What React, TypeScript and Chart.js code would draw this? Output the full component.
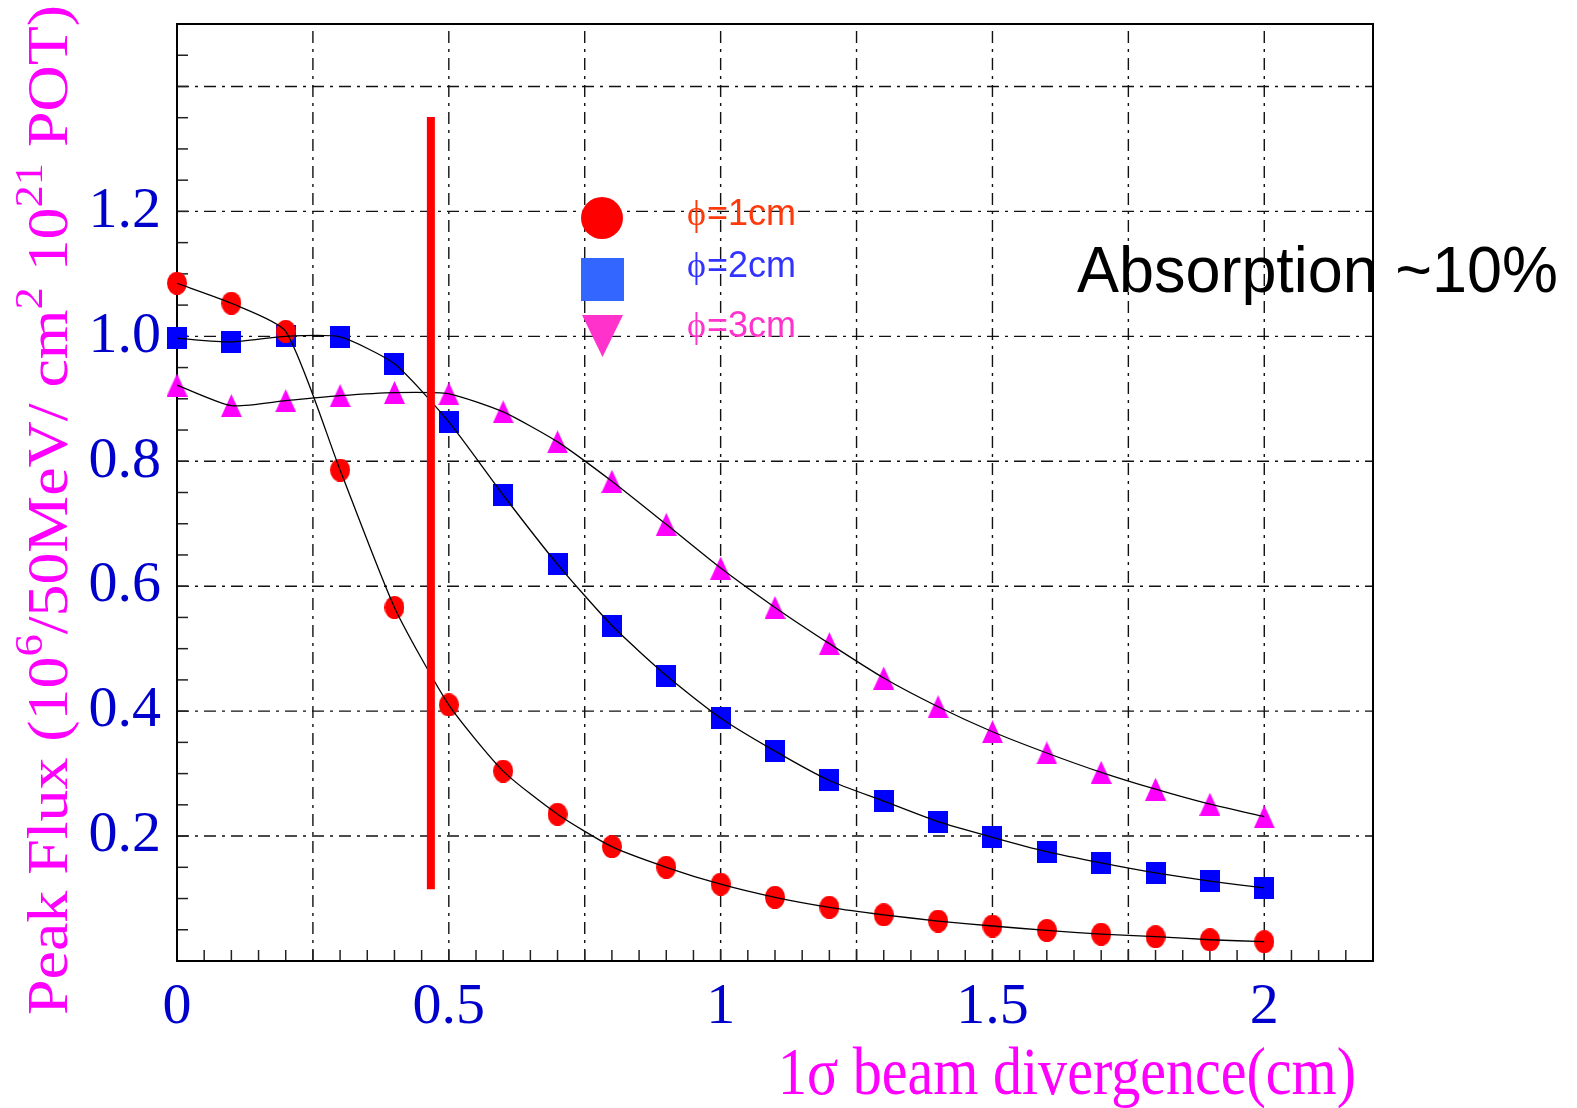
import { useEffect, useRef } from 'react';
import { Chart, registerables } from 'chart.js';

Chart.register(...registerables);

// Beam divergence (cm) at which each configuration was simulated
const divergenceCm = [0, 0.1, 0.2, 0.3, 0.4, 0.5, 0.6, 0.7, 0.8, 0.9, 1.0, 1.1, 1.2, 1.3, 1.4, 1.5, 1.6, 1.7, 1.8, 1.9, 2.0];

// Peak flux for each target diameter
const fluxPhi1 = [1.085, 1.053, 1.008, 0.786, 0.566, 0.41, 0.304, 0.235, 0.183, 0.15, 0.123, 0.102, 0.086, 0.074, 0.064, 0.056, 0.049, 0.043, 0.039, 0.034, 0.031];
const fluxPhi2 = [0.997, 0.991, 1.0, 0.999, 0.956, 0.863, 0.746, 0.635, 0.537, 0.457, 0.389, 0.336, 0.289, 0.256, 0.223, 0.198, 0.175, 0.157, 0.141, 0.128, 0.117];
const fluxPhi3 = [0.922, 0.889, 0.897, 0.905, 0.91, 0.908, 0.879, 0.831, 0.768, 0.699, 0.629, 0.566, 0.508, 0.453, 0.407, 0.367, 0.333, 0.302, 0.275, 0.251, 0.231];

// Vertical marker line
const cutDivergence = 0.467;
const cutFluxRange = [0.115, 1.351];

const seriesNames = ['ϕ=1cm', 'ϕ=2cm', 'ϕ=3cm'];

const xTickValues = [0, 0.5, 1, 1.5, 2];
const xTickLabels = ['0', '0.5', '1', '1.5', '2'];
const yTickValues = [0.2, 0.4, 0.6, 0.8, 1.0, 1.2];
const yTickLabels = ['0.2', '0.4', '0.6', '0.8', '1.0', '1.2'];

const yTitleParts: [string, boolean][] = [
  ['Peak Flux (10', false],
  ['6', true],
  ['/50MeV/ cm', false],
  ['2', true],
  [' 10', false],
  ['21', true],
  [' POT)', false],
];
const xTitle = '1σ beam divergence(cm)';
const note = 'Absorption ~10%';

const W = 1577;
const H = 1108;
const SERIF = '"Liberation Serif", "Times New Roman", serif';
const SANS = '"Liberation Sans", Arial, sans-serif';

function markerCanvas(w: number, h: number, draw: (g: CanvasRenderingContext2D) => void) {
  const c = document.createElement('canvas');
  c.width = w;
  c.height = h;
  const g = c.getContext('2d')!;
  draw(g);
  return c;
}

function labelFor(values: number[], labels: string[]) {
  return (v: number | string) => {
    const i = values.findIndex((t) => Math.abs(t - Number(v)) < 1e-6);
    return i >= 0 ? labels[i] : '';
  };
}

const framePlugin = {
  id: 'frame',
  beforeDatasetsDraw(chart: any) {
    const { ctx, chartArea: a, scales } = chart;
    const x = scales.x;
    const y = scales.y;
    ctx.save();
    // dash-dot grid
    ctx.strokeStyle = '#111';
    ctx.lineWidth = 1.4;
    ctx.setLineDash([12, 6, 3, 6]);
    for (let i = 1; i * 0.25 < 2.2 - 1e-6; i++) {
      const px = x.getPixelForValue(i * 0.25);
      ctx.beginPath();
      ctx.moveTo(px, a.bottom);
      ctx.lineTo(px, a.top);
      ctx.stroke();
    }
    for (let i = 1; i * 0.2 < 1.5 - 1e-6; i++) {
      const py = y.getPixelForValue(i * 0.2);
      ctx.beginPath();
      ctx.moveTo(a.left, py);
      ctx.lineTo(a.right, py);
      ctx.stroke();
    }
    ctx.setLineDash([]);
    // inner tick marks
    ctx.strokeStyle = '#222';
    ctx.lineWidth = 1.5;
    for (let i = 1; i * 0.05 < 2.2 - 1e-6; i++) {
      const px = x.getPixelForValue(i * 0.05);
      ctx.beginPath();
      ctx.moveTo(px, a.bottom);
      ctx.lineTo(px, a.bottom - 11);
      ctx.stroke();
    }
    for (let i = 1; i * 0.05 < 1.5 - 1e-6; i++) {
      const py = y.getPixelForValue(i * 0.05);
      ctx.beginPath();
      ctx.moveTo(a.left, py);
      ctx.lineTo(a.left + 11, py);
      ctx.stroke();
    }
    // frame
    ctx.strokeStyle = '#000';
    ctx.lineWidth = 2;
    ctx.strokeRect(a.left, a.top, a.right - a.left, a.bottom - a.top);
    ctx.restore();
  },
  afterDraw(chart: any) {
    const { ctx } = chart;
    ctx.save();

    // legend
    const legendX = 602;
    ctx.fillStyle = '#ff0000';
    ctx.beginPath();
    ctx.arc(legendX, 218, 21, 0, Math.PI * 2);
    ctx.fill();
    ctx.fillStyle = '#3366ff';
    ctx.fillRect(581, 258, 43, 43);
    ctx.fillStyle = '#ff33cc';
    ctx.beginPath();
    ctx.moveTo(582, 315);
    ctx.lineTo(623, 315);
    ctx.lineTo(602.5, 357);
    ctx.closePath();
    ctx.fill();

    const legendColors = ['#ff3a0a', '#3333ff', '#ff33cc'];
    const legendBase = [225, 277, 337];
    ctx.textBaseline = 'alphabetic';
    ctx.textAlign = 'left';
    seriesNames.forEach((name, i) => {
      ctx.fillStyle = legendColors[i];
      ctx.font = `36px ${SERIF}`;
      const sym = name.slice(0, 1);
      ctx.fillText(sym, 687, legendBase[i]);
      const sw = ctx.measureText(sym).width;
      ctx.font = `36px ${SANS}`;
      ctx.fillText(name.slice(1), 687 + sw + 1, legendBase[i]);
    });

    // annotation
    ctx.fillStyle = '#000';
    ctx.font = `64px ${SANS}`;
    const nw = ctx.measureText(note).width;
    ctx.save();
    ctx.translate(1077, 292);
    ctx.scale(481 / nw, 1);
    ctx.fillText(note, 0, 0);
    ctx.restore();

    // x title
    ctx.fillStyle = '#ff00ff';
    ctx.font = `58px ${SERIF}`;
    const xw = ctx.measureText(xTitle).width;
    ctx.save();
    ctx.translate(1356, 1094);
    ctx.scale(578 / xw, 1.16);
    ctx.textAlign = 'right';
    ctx.fillText(xTitle, 0, 0);
    ctx.restore();

    // y title (rotated, with superscripts)
    const mainSize = 56;
    const supSize = 39;
    let total = 0;
    const widths = yTitleParts.map(([t, sup]) => {
      ctx.font = `${sup ? supSize : mainSize}px ${SERIF}`;
      const w = ctx.measureText(t).width;
      total += w;
      return w;
    });
    ctx.save();
    ctx.translate(67, 1015);
    ctx.rotate(-Math.PI / 2);
    ctx.scale(1010 / total, 1);
    ctx.textAlign = 'left';
    let cx = 0;
    yTitleParts.forEach(([t, sup], i) => {
      ctx.font = `${sup ? supSize : mainSize}px ${SERIF}`;
      ctx.fillText(t, cx, sup ? -25 : 0);
      cx += widths[i];
    });
    ctx.restore();

    ctx.restore();
  },
};

export default function App() {
  const ref = useRef<HTMLCanvasElement | null>(null);

  useEffect(() => {
    const canvas = ref.current;
    if (!canvas) return;

    const circle = markerCanvas(20, 23, (g) => {
      g.fillStyle = '#ff0000';
      g.beginPath();
      g.ellipse(10, 11.5, 10, 11.5, 0, 0, Math.PI * 2);
      g.fill();
    });
    const square = markerCanvas(20, 22, (g) => {
      g.fillStyle = '#0000ff';
      g.fillRect(0, 0, 20, 22);
    });
    const triangle = markerCanvas(21, 23, (g) => {
      g.fillStyle = '#ff00ff';
      g.beginPath();
      g.moveTo(10.5, 0);
      g.lineTo(21, 23);
      g.lineTo(0, 23);
      g.closePath();
      g.fill();
    });

    const pts = (ys: number[]) => divergenceCm.map((x, i) => ({ x, y: ys[i] }));
    const series = [fluxPhi1, fluxPhi2, fluxPhi3];
    const markers = [circle, square, triangle];

    const markerSets = series.map((ys, i) => ({
      label: seriesNames[i],
      data: pts(ys),
      showLine: false,
      pointStyle: markers[i],
      pointRadius: 10,
      pointHoverRadius: 10,
      clip: false as const,
      order: 2,
    }));
    const lineSets = series.map((ys, i) => ({
      label: seriesNames[i] + ' fit',
      data: pts(ys),
      showLine: true,
      borderColor: '#000000',
      borderWidth: 1.3,
      tension: 0.2,
      pointRadius: 0,
      clip: false as const,
      order: 1,
    }));
    const cutSet = {
      label: 'cut',
      data: [
        { x: cutDivergence, y: cutFluxRange[0] },
        { x: cutDivergence, y: cutFluxRange[1] },
      ],
      showLine: true,
      borderColor: '#ff0000',
      borderWidth: 8,
      borderCapStyle: 'butt' as const,
      pointRadius: 0,
      clip: false as const,
      order: 0,
    };

    const tickFont = { family: SERIF, size: 58 };

    const chart = new Chart(canvas, {
      type: 'scatter',
      data: { datasets: [...markerSets, ...lineSets, cutSet] as any },
      options: {
        animation: false,
        responsive: false,
        devicePixelRatio: 1,
        layout: { padding: { left: 0, top: 24, right: W - 1373, bottom: 0 } },
        plugins: { legend: { display: false }, tooltip: { enabled: false } },
        scales: {
          x: {
            type: 'linear',
            min: 0,
            max: 2.2,
            grid: { display: false, drawTicks: false },
            border: { display: false },
            ticks: {
              stepSize: 0.05,
              autoSkip: false,
              maxRotation: 0,
              minRotation: 0,
              padding: 12,
              color: '#0000cc',
              font: tickFont,
              callback: labelFor(xTickValues, xTickLabels),
            },
            afterFit: (s: any) => {
              s.height = H - 961;
              s.paddingLeft = 0;
              s.paddingRight = 0;
            },
          },
          y: {
            type: 'linear',
            min: 0,
            max: 1.5,
            grid: { display: false, drawTicks: false },
            border: { display: false },
            ticks: {
              stepSize: 0.05,
              autoSkip: false,
              padding: 16,
              color: '#0000cc',
              font: tickFont,
              callback: labelFor(yTickValues, yTickLabels),
            },
            afterFit: (s: any) => {
              s.width = 177;
              s.paddingTop = 0;
              s.paddingBottom = 0;
            },
          },
        },
      },
      plugins: [framePlugin],
    });

    return () => chart.destroy();
  }, []);

  return (
    <canvas
      ref={ref}
      width={W}
      height={H}
      style={{ position: 'fixed', left: 0, top: 0, width: W, height: H, background: '#fff' }}
    />
  );
}
